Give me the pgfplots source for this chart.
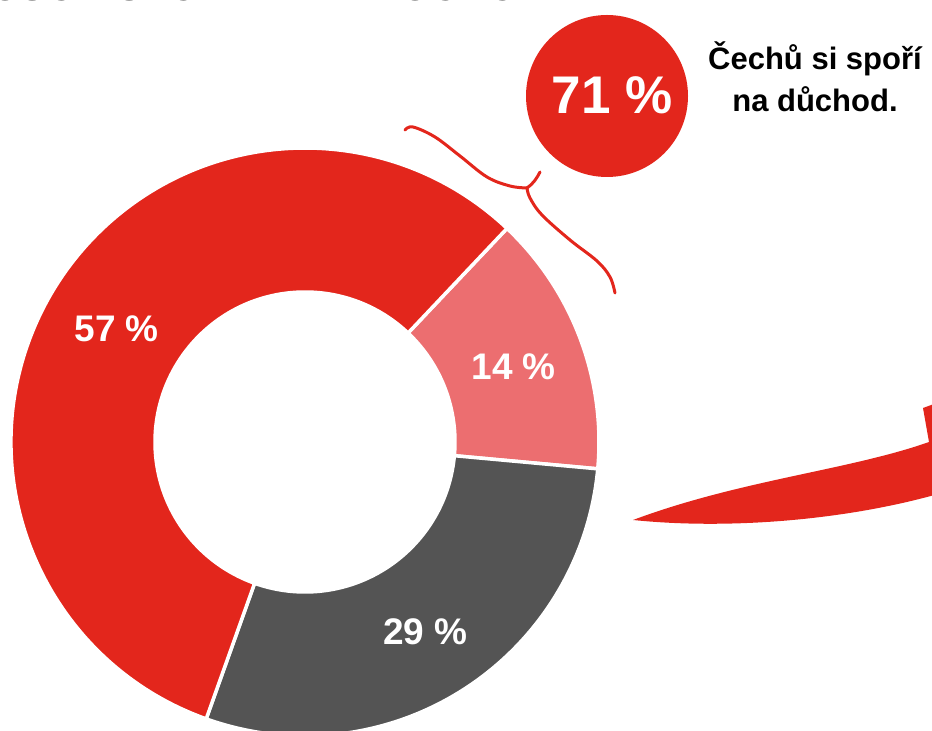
\documentclass[border=0pt]{standalone}
\usepackage{fontspec}
\setmainfont{Liberation Sans}
\usepackage{pgfplots}
\usepackage{pgfplotstable}
\pgfplotsset{compat=1.18}
\definecolor{cred}{HTML}{E3261C}
\definecolor{cpink}{HTML}{EC6E70}
\definecolor{cgray}{HTML}{545454}

% shares of the donut (%), clockwise from the red/pink boundary
\pgfplotstableread{
share col
14.4 cpink
29.0 cgray
56.6 cred
}\slices

\begin{document}
\begin{tikzpicture}
\path[use as bounding box] (0,0) rectangle (932pt,731pt);
\clip (0,0) rectangle (932pt,731pt);
\begin{axis}[hide axis, x=1pt, y=1pt, xmin=0, xmax=932, ymin=0, ymax=731,
  at={(0,0)}, anchor=south west, clip=false, scale only axis]
\pgfplotstablegetrowsof{\slices}
\pgfmathtruncatemacro\nrows{\pgfplotsretval-1}
\xdef\cura{46.6}
\pgfplotsforeachungrouped \i in {0,...,\nrows}{%
  \pgfplotstablegetelem{\i}{share}\of\slices \let\sv\pgfplotsretval
  \pgfplotstablegetelem{\i}{col}\of\slices \let\scol\pgfplotsretval
  \pgfmathsetmacro\enda{\cura-3.6*\sv}%
  \pgfmathsetmacro\mida{\cura-1.8*\sv}%
  \pgfmathsetmacro\xa{305+294*cos(\cura)}%
  \pgfmathsetmacro\ya{289+294*sin(\cura)}%
  \pgfmathsetmacro\xb{305+150*cos(\enda)}%
  \pgfmathsetmacro\yb{289+150*sin(\enda)}%
  \pgfmathsetmacro\xl{305+222*cos(\mida)+1}%
  \pgfmathsetmacro\yl{289+222*sin(\mida)-3}%
  \pgfmathtruncatemacro\vv{round(\sv)}%
  \edef\temp{%
    \noexpand\filldraw[fill=\scol, draw=white, line width=3.5pt]
      (axis cs:\xa,\ya) arc[start angle=\cura, end angle=\enda, radius=294pt]
      -- (axis cs:\xb,\yb) arc[start angle=\enda, end angle=\cura, radius=150pt] -- cycle;
    \noexpand\node[text=white, font=\noexpand\bfseries\noexpand\fontsize{37}{42}\noexpand\selectfont]
      at (axis cs:\xl,\yl) {\vv\space\noexpand\%};
  }\temp
  \xdef\cura{\enda}%
}
\end{axis}
\begin{scope}[x=1pt, y=-1pt, shift={(0,731pt)}]
  % cut-off title
  \node[anchor=base west, inner sep=0pt, font=\bfseries\fontsize{39.5}{42}\selectfont] at (-59.5,0.8) {ZPŮSOB SPOŘENÍ NA DŮCHOD};
  % red badge
  \fill[cred] (607,96) circle[radius=81];
  \node[text=white, font=\bfseries\fontsize{53}{60}\selectfont] at (612,95) {71 \%};
  \node[align=center, font=\bfseries\fontsize{31}{42}\selectfont] at (815,77) {Čechů si spoří\\na důchod.};
  % brace
  \draw[cred, line width=3pt, line cap=round] plot[smooth, tension=0.6] coordinates
    {(405,130) (413,127) (435,137) (460,156) (487,177) (510,186) (527,188)};
  \draw[cred, line width=3pt, line cap=round] (527,188) .. controls (533,184) and (537,178) .. (540,172);
  \draw[cred, line width=3pt, line cap=round] plot[smooth, tension=0.6] coordinates
    {(527,188) (530,198) (542,215) (570,240) (597,261) (610,277) (615,293)};
  % swoosh arrow
  \fill[cred] (633,520) .. controls (740,480) and (850,470) .. (929,442) -- (923,408) -- (945,400)
     -- (945,492) .. controls (850,520) and (730,530) .. (633,520) -- cycle;
\end{scope}
\end{tikzpicture}
\end{document}
